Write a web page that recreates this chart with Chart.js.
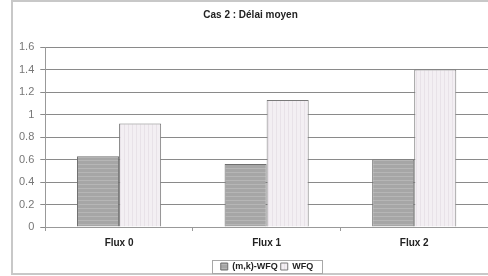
<!DOCTYPE html>
<html>
<head>
<meta charset="utf-8">
<script src="https://cdn.jsdelivr.net/npm/chart.js@4/dist/chart.umd.min.js"></script>
<style>
  html, body { margin: 0; padding: 0; background: #fff; }
  #wrap { width: 488px; height: 276px; }
</style>
</head>
<body>
<div id="wrap"><canvas id="chart" width="488" height="276"></canvas></div>
<script>
var categories = ['Flux 0', 'Flux 1', 'Flux 2'];
var mkwfq = [0.63, 0.56, 0.60];
var wfq = [0.92, 1.13, 1.40];
var seriesNames = ['(m,k)-WFQ', 'WFQ'];

// striped fills like the old excel export
function stripes(bg, line, vertical) {
    var c = document.createElement('canvas');
    c.width = 4; c.height = 4;
    var x = c.getContext('2d');
    x.fillStyle = bg;
    x.fillRect(0, 0, 4, 4);
    x.fillStyle = line;
    if (vertical) x.fillRect(0, 0, 1, 4);
    else x.fillRect(0, 0, 4, 1);
    return x.createPattern(c, 'repeat');
}
var ctx = document.getElementById('chart').getContext('2d');
var grayFill = stripes('#a6a6a6', '#b6b6b6', false);
var whiteFill = stripes('#f3eff3', '#e8e2e8', true);

// outer frame + box around legend
var framePlugin = {
    id: 'frame',
    afterLayout: function(chart) {
        // legend sits centred under the plot and close to the frame bottom
        var lg = chart.legend;
        var h = lg.height;
        lg.left = 212;
        lg.right = 322;
        lg.width = 110;
        lg.top = 259;
        lg.bottom = 259 + h;
    },
    afterDraw: function(chart) {
        var c = chart.ctx;
        c.save();
        c.strokeStyle = '#c8c8c8';
        c.lineWidth = 2;
        c.strokeRect(12, 1, 480, 273);
        c.strokeStyle = '#a8a8a8';
        c.lineWidth = 1;
        c.strokeRect(212.5, 260.5, 110, 13);
        c.restore();
    }
};

var chart = new Chart(ctx, {
    type: 'bar',
    data: {
        labels: categories,
        datasets: [{
            label: seriesNames[0],
            data: mkwfq,
            backgroundColor: grayFill,
            borderColor: '#6f6f6f',
            borderWidth: 1,
            categoryPercentage: 0.57,
            barPercentage: 1.0
        }, {
            label: seriesNames[1],
            data: wfq,
            backgroundColor: whiteFill,
            borderColor: '#7a7a7a',
            borderWidth: 1,
            categoryPercentage: 0.57,
            barPercentage: 1.0
        }]
    },
    options: {
        responsive: false,
        animation: false,
        layout: { padding: { left: 13, right: 0, top: 3, bottom: 2 } },
        plugins: {
            title: {
                display: true,
                text: 'Cas 2 : Délai moyen',
                color: '#222',
                font: { family: 'Arial, "Liberation Sans"', size: 10, weight: 'bold' },
                padding: { top: 6, bottom: 26 }
            },
            legend: {
                position: 'bottom',
                labels: {
                    boxWidth: 7,
                    boxHeight: 7,
                    padding: 3,
                    color: '#222',
                    font: { family: 'Arial, "Liberation Sans"', size: 9, weight: 'bold' }
                }
            },
            tooltip: { enabled: false }
        },
        scales: {
            x: {
                grid: { display: true, drawOnChartArea: false, offset: true, tickLength: 4, color: '#999' },
                border: { color: '#999' },
                ticks: {
                    color: '#222',
                    padding: 6,
                    font: { family: 'Arial, "Liberation Sans"', size: 10, weight: 'bold' }
                },
                afterFit: function(s) { s.height -= 3; }
            },
            y: {
                min: 0,
                max: 1.6,
                ticks: {
                    stepSize: 0.2,
                    color: '#777',
                    padding: 6,
                    font: { family: 'Arial, "Liberation Sans"', size: 11 },
                    callback: function(v) { return Math.round(v * 10) / 10; }
                },
                grid: { color: '#8a8a8a', tickLength: 5 },
                border: { color: '#999' }
            }
        }
    },
    plugins: [framePlugin]
});
</script>
</body>
</html>
